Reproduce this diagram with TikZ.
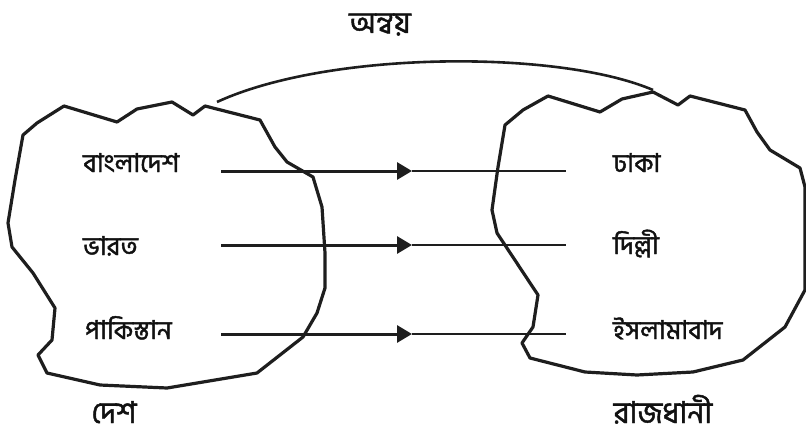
\documentclass[tikz,border=0pt]{standalone}
\usepackage{fontspec}
\usepackage{xcolor}
\usepackage{tikz}
\usetikzlibrary{arrows.meta}
\newfontfamily\bn[Script=Bengali, AutoFakeBold=1.6]{Hind Siliguri}
\definecolor{ink}{HTML}{1E1E1E}
\definecolor{text}{HTML}{111111}
\tikzset{
  blob/.style={draw=ink, line width=3.2pt, line join=round},
  mapthick/.style={draw=ink, line width=3pt, -{Triangle[length=15pt,width=17pt]}},
  mapthin/.style={draw=ink, line width=2pt},
  arcline/.style={draw=ink, line width=2.6pt},
  lab/.style={text=text, inner sep=0pt, anchor=base west, font=\bn\bfseries\fontsize{26}{30}\selectfont},
  ttl/.style={text=text, inner sep=0pt, anchor=base, text depth=0pt, font=\bn\bfseries\fontsize{30}{36}\selectfont}
}
\begin{document}
\begin{tikzpicture}[x=1pt,y=-1pt]
  \useasboundingbox (0,0) rectangle (806,436);

  % domain set
  \draw[blob] (64,106) -- (117,122) -- (137,109) -- (172,102) -- (193,115)
    -- (205,106) -- (260,120) -- (275,147) -- (287,162) -- (313,177)
    -- (322,207) -- (325,253) -- (325,288) -- (317,313) -- (303,337)
    -- (257,373) -- (167,388) -- (100,385) -- (47,373) -- (38,355)
    -- (52,340) -- (55,308) -- (33,273) -- (12,247) -- (8,223)
    -- (15,180) -- (23,135) -- (37,123) -- cycle;

  % codomain set
  \draw[blob] (548,96) -- (600,112) -- (622,99) -- (653,92) -- (678,105)
    -- (690,96) -- (745,110) -- (757,132) -- (770,150) -- (800,168)
    -- (805,187) -- (805,290) -- (785,327) -- (743,360) -- (693,372)
    -- (637,375) -- (585,372) -- (530,358) -- (522,343) -- (533,327)
    -- (538,295) -- (497,233) -- (492,210) -- (498,167) -- (505,125)
    -- (523,110) -- cycle;

  % relation arc
  \coordinate (arcA) at (217,102);
  \coordinate (arcB) at (653,90);
  \draw[arcline] (arcA) .. controls (330,50) and (560,50) .. (arcB);

  \node[ttl] (anvay) at (380,33) {অন্বয়};
  \node[ttl] (desh) at (114,423) {দেশ};
  \node[ttl] (rajdhani) at (663,423) {রাজধানী};

  \node[lab] (bd) at (83,172) {বাংলাদেশ};
  \node[lab] (bh) at (83,255) {ভারত};
  \node[lab] (pk) at (85,339) {পাকিস্তান};

  \node[lab] (dh) at (613,172) {ঢাকা};
  \node[lab] (dl) at (613,254) {দিল্লী};
  \node[lab] (is) at (613,339) {ইসলামাবাদ};

  \coordinate (s1) at (221,171);
  \coordinate (m1) at (412,171);
  \coordinate (e1) at (566,171);
  \coordinate (s2) at (221,245);
  \coordinate (m2) at (412,245);
  \coordinate (e2) at (566,245);
  \coordinate (s3) at (221,334);
  \coordinate (m3) at (412,334);
  \coordinate (e3) at (566,334);

  \draw[mapthick] (s1) -- (m1);
  \draw[mapthin] (m1) -- (e1);
  \draw[mapthick] (s2) -- (m2);
  \draw[mapthin] (m2) -- (e2);
  \draw[mapthick] (s3) -- (m3);
  \draw[mapthin] (m3) -- (e3);
\end{tikzpicture}
\end{document}
